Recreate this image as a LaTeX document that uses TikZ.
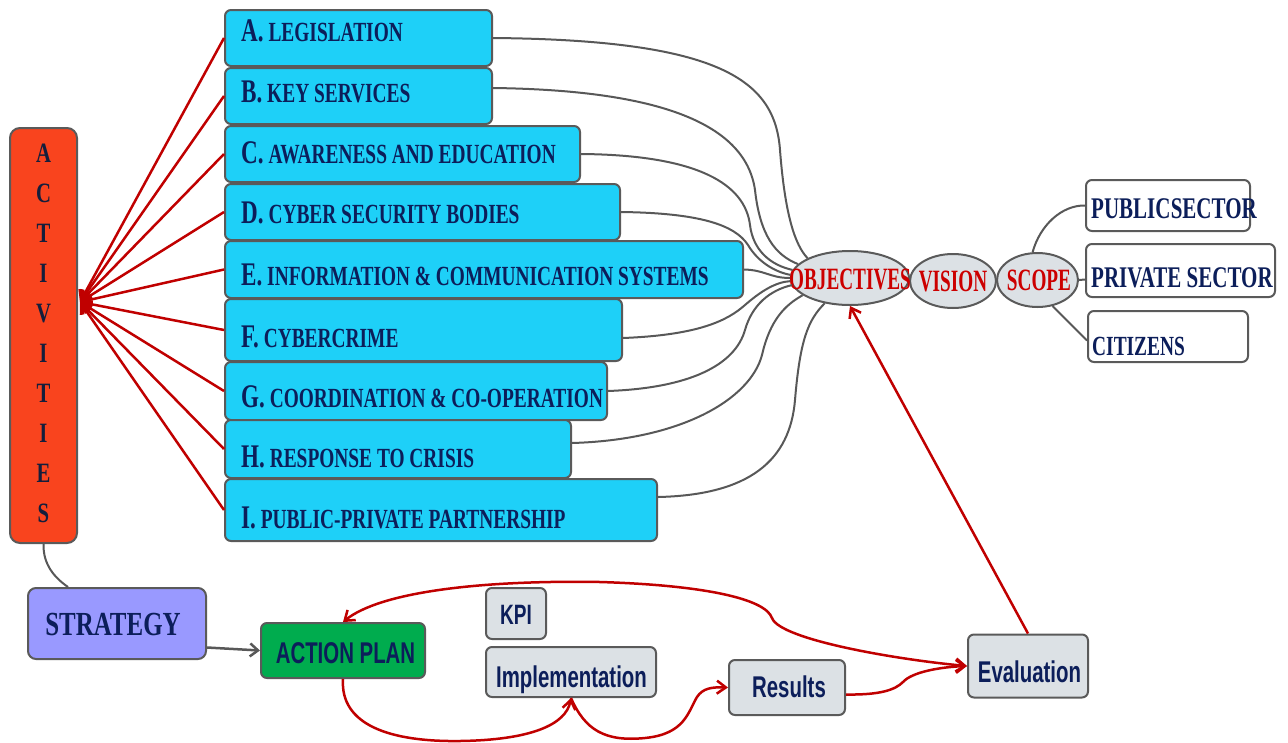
\documentclass[tikz,border=0pt]{standalone}
\usepackage{fontspec}
\setmainfont{Liberation Serif}
\newfontfamily\serA{Liberation Serif}[FakeStretch=0.70]
\newfontfamily\serB{Liberation Serif}[FakeStretch=0.62]
\newfontfamily\serC{Liberation Serif}[FakeStretch=0.74]
\newfontfamily\sanA{Liberation Sans}[FakeStretch=0.68]
\usetikzlibrary{shapes.geometric,arrows.meta}
\definecolor{cyanb}{RGB}{30,208,248}
\definecolor{actred}{RGB}{249,68,30}
\definecolor{stratblue}{RGB}{153,153,255}
\definecolor{apgreen}{RGB}{0,172,78}
\definecolor{lgrey}{RGB}{220,225,229}
\definecolor{navy}{RGB}{12,30,90}
\definecolor{redl}{RGB}{192,0,0}
\definecolor{redtxt}{RGB}{204,0,0}
\definecolor{greyl}{RGB}{88,88,88}
\definecolor{bord}{RGB}{90,90,90}
\newcommand\boxlbl[2]{{\fontsize{33}{33}\selectfont #1} #2}
\begin{document}
\begin{tikzpicture}[x=1pt,y=-1pt,
  bx/.style={draw=bord,line width=2pt,rounded corners=6pt,fill=cyanb,inner sep=0pt},
  gbx/.style={draw=bord,line width=2pt,rounded corners=6pt,fill=lgrey,inner sep=0pt},
  wbx/.style={draw=bord,line width=2pt,rounded corners=6pt,fill=white,inner sep=0pt},
  ell/.style={ellipse,draw=bord,line width=2pt,fill=lgrey,inner sep=0pt},
  blbl/.style={anchor=base west,inner sep=0pt,text=navy,font=\serA\bfseries\fontsize{27.7}{28}\selectfont},
  rlbl/.style={anchor=base west,inner sep=0pt,text=navy,font=\serA\bfseries\fontsize{30}{30}\selectfont},
  elbl/.style={inner sep=0pt,text=redtxt,font=\serB\bfseries\fontsize{31}{31}\selectfont},
  slbl/.style={anchor=base,inner sep=0pt,text=navy},
  gl/.style={draw=greyl,line width=2pt},
  rarr/.style={draw=redl,line width=2.5pt,-{Straight Barb[length=9pt,width=13pt]}},
  rarrb/.style={draw=redl,line width=2.5pt,{Straight Barb[length=9pt,width=13pt]}-{Straight Barb[length=9pt,width=13pt]}}
]
\useasboundingbox (0,0) rectangle (1288,742);

% ACTIVITIES
\node[draw=bord,line width=2pt,rounded corners=10pt,fill=actred,minimum width=67pt,minimum height=415pt,inner sep=0pt] (act) at (43.5,335.5) {};
\node[inner sep=0pt,align=center,text={rgb,255:red,20;green,30;blue,60},font=\serC\bfseries\fontsize{28}{40}\selectfont] (actt) at (43.5,333) {A\\C\\T\\I\\V\\I\\T\\I\\E\\S};

% blue boxes
\node[bx,minimum width=267pt,minimum height=56pt] (A) at (358.5,38) {};
\node[bx,minimum width=267pt,minimum height=56pt] (B) at (358.5,96) {};
\node[bx,minimum width=355pt,minimum height=56pt] (C) at (402.5,154) {};
\node[bx,minimum width=395pt,minimum height=56pt] (D) at (422.5,212) {};
\node[bx,minimum width=518pt,minimum height=57pt] (E) at (484,269.5) {};
\node[bx,minimum width=397pt,minimum height=62pt] (F) at (423.5,330) {};
\node[bx,minimum width=382pt,minimum height=58pt] (G) at (416,391) {};
\node[bx,minimum width=346pt,minimum height=58pt] (H) at (398,449) {};
\node[bx,minimum width=432pt,minimum height=62pt] (I) at (441,510) {};

\node[blbl] (At) at (241,41) {\boxlbl{A.}{LEGISLATION}};
\node[blbl] (Bt) at (241,102) {\boxlbl{B.}{KEY SERVICES}};
\node[blbl] (Ct) at (241,163) {\boxlbl{C.}{AWARENESS AND EDUCATION}};
\node[blbl] (Dt) at (241,223) {\boxlbl{D.}{CYBER SECURITY BODIES}};
\node[blbl] (Et) at (241,285) {\boxlbl{E.}{INFORMATION \& COMMUNICATION SYSTEMS}};
\node[blbl] (Ft) at (241,347) {\boxlbl{F.}{CYBERCRIME}};
\node[blbl] (Gt) at (241,407) {\boxlbl{G.}{COORDINATION \& CO-OPERATION}};
\node[blbl] (Ht) at (241,467) {\boxlbl{H.}{RESPONSE TO CRISIS}};
\node[blbl] (It) at (241,528) {\boxlbl{I.}{PUBLIC-PRIVATE PARTNERSHIP}};

% ellipses
\node[ell,minimum width=118pt,minimum height=54pt] (obj) at (850,278) {};
\node[ell,minimum width=86pt,minimum height=54pt] (vis) at (953,281) {};
\node[ell,minimum width=81pt,minimum height=54pt] (scope) at (1037.5,280) {};
\node[elbl] (objt) at (850,279) {OBJECTIVES};
\node[elbl] (vist) at (953,281) {VISION};
\node[elbl] (scopet) at (1039,280) {SCOPE};

% right boxes
\node[wbx,minimum width=164pt,minimum height=51pt] (pub) at (1168,205.5) {};
\node[wbx,minimum width=189pt,minimum height=53pt] (priv) at (1180.5,270.5) {};
\node[wbx,minimum width=160pt,minimum height=51pt] (cit) at (1168,336.5) {};
\node[rlbl] (pubt) at (1091,218) {PUBLIC\kern-5pt\ SECTOR};
\node[rlbl] (privt) at (1091,287) {PRIVATE SECTOR};
\node[rlbl,font=\serA\bfseries\fontsize{27.7}{28}\selectfont] (citt) at (1092,355) {CITIZENS};

% bottom boxes
\node[draw=bord,line width=2pt,rounded corners=8pt,fill=stratblue,minimum width=178pt,minimum height=71pt,inner sep=0pt] (strat) at (117,623.5) {};
\node[draw=bord,line width=2pt,rounded corners=6pt,fill=apgreen,minimum width=164pt,minimum height=55pt,inner sep=0pt] (ap) at (343,650.5) {};
\node[gbx,minimum width=60pt,minimum height=51pt] (kpi) at (516,613.5) {};
\node[gbx,minimum width=170pt,minimum height=50pt] (imp) at (571,672) {};
\node[gbx,minimum width=116pt,minimum height=55pt] (res) at (787,687.5) {};
\node[gbx,minimum width=120pt,minimum height=63pt] (eval) at (1028,666) {};

\node[slbl,font=\serC\bfseries\fontsize{33.7}{34}\selectfont] (stratt) at (113,635) {STRATEGY};
\node[slbl,font=\sanA\bfseries\fontsize{30}{30}\selectfont] (apt) at (345.5,663) {ACTION PLAN};
\node[slbl,font=\sanA\bfseries\fontsize{28}{28}\selectfont] (kpit) at (516,624) {KPI};
\node[slbl,font=\sanA\bfseries\fontsize{30}{30}\selectfont] (impt) at (571.5,687) {Implementation};
\node[slbl,font=\sanA\bfseries\fontsize{30}{30}\selectfont] (rest) at (789,697) {Results};
\node[slbl,font=\sanA\bfseries\fontsize{30}{30}\selectfont] (evalt) at (1029.5,682) {Evaluation};

% red lines to ACTIVITIES
\coordinate (tip) at (80,302);
\foreach \n in {A,B,C,D,E,F,G,H,I} {\draw[rarr] (\n.west) -- (tip);}

% grey curves to OBJECTIVES
\draw[gl] (A.east) .. controls (720,40) and (775,80) .. (780,150) .. controls (785,215) and (795,245) .. (obj.155);
\draw[gl] ([yshift=8pt]B.east) .. controls (650,90) and (745,120) .. (755,190) .. controls (760,235) and (775,255) .. (obj.165);
\draw[gl] (C.east) .. controls (700,155) and (745,185) .. (750,225) .. controls (753,250) and (770,265) .. (obj.172);
\draw[gl] (D.east) .. controls (700,213) and (735,225) .. (748,245) .. controls (758,262) and (775,272) .. (obj.177);
\draw[gl] (E.east) .. controls (765,270) and (770,278) .. (obj.west);
\draw[gl] ([yshift=-8pt]F.east) .. controls (700,335) and (728,320) .. (745,305) .. controls (760,292) and (775,282) .. (obj.183);
\draw[gl] (G.east) .. controls (690,388) and (735,365) .. (745,330) .. controls (752,305) and (770,290) .. (obj.187);
\draw[gl] ([yshift=6pt]H.east) .. controls (680,440) and (750,400) .. (762,355) .. controls (770,320) and (785,305) .. (obj.200);
\draw[gl] ([yshift=13pt]I.east) .. controls (750,495) and (790,460) .. (795,400) .. controls (800,340) and (808,320) .. (obj.225);

% scope connections
\draw[gl] (scope.100) .. controls (1040,225) and (1062,205) .. (pub.west);
\draw[gl] (scope.east) -- ([yshift=-9pt]priv.west);
\draw[gl] (scope.-60) -- ([yshift=-4pt]cit.west);

% strategy connections
\draw[gl] (act.south) .. controls (43,565) and (55,578) .. ([xshift=-49pt]strat.north);
\draw[gl,line width=2.5pt,-{Straight Barb[length=8pt,width=13pt]}] ([yshift=-24pt]strat.east) -- (ap.west);

% red cycle
\draw[rarr] (eval.north) -- (obj.south);
\draw[rarrb] (ap.north) .. controls (380,592) and (480,580) .. (600,582) .. controls (700,585) and (765,598) .. (772,618) .. controls (780,640) and (900,660) .. (eval.west);
\draw[rarr] ([yshift=-7pt]res.east) .. controls (880,695) and (895,690) .. (903,682) .. controls (912,672) and (940,667) .. (eval.west);
\draw[rarr] (ap.south) .. controls (340,725) and (390,742) .. (460,741) .. controls (530,740) and (566,725) .. (imp.south);
\draw[rarr] (imp.south) .. controls (585,730) and (605,742) .. (645,738) .. controls (685,734) and (688,712) .. (697,697) .. controls (703,688) and (712,687) .. (res.west);
\end{tikzpicture}
\end{document}
